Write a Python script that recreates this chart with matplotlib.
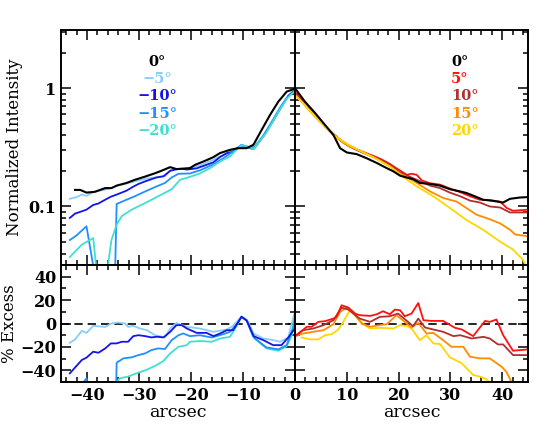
import matplotlib
matplotlib.use("Agg")
import matplotlib.pyplot as plt
from matplotlib.ticker import MultipleLocator, LogLocator, NullFormatter, FixedLocator

plt.rcParams['font.family'] = ['DejaVu Serif']
plt.rcParams['font.size'] = 11.5
plt.rcParams['font.weight'] = 'bold'

# ---- top left: normalized intensity, negative angles ----
x_l0 = [-42.3, -41.3, -40.1, -38.5, -36.5, -35.3, -34.3, -32.4, -30.8, -28.8, -26.9, -25.6, -24.0, -22.8,
        -20.2, -19.2, -17.6, -15.7, -14.4, -12.5, -10.9, -9.3, -8.0, -6.4, -4.8, -3.2, -1.6, -0.3, 0]
y_l0 = [0.138, 0.138, 0.131, 0.133, 0.143, 0.143, 0.150, 0.158, 0.168, 0.179, 0.191, 0.201, 0.215, 0.207,
        0.211, 0.225, 0.240, 0.261, 0.283, 0.301, 0.311, 0.311, 0.332, 0.445, 0.594, 0.77, 0.935, 0.98, 1.0]

x_m5 = [-43.3, -42.0, -41.0, -40.1, -38.8, -36.5, -35.3, -34.0, -32.7, -31.1, -29.8, -28.5, -26.9, -25.0,
        -24.0, -22.8, -20.8, -18.3, -15.7, -13.1, -11.9, -10.3, -9.0, -8.0, -6.1, -4.2, -2.9, -1.3, -0.3, 0]
y_m5 = [0.116, 0.120, 0.126, 0.123, 0.132, 0.139, 0.143, 0.151, 0.155, 0.162, 0.167, 0.172, 0.176, 0.180,
        0.203, 0.208, 0.207, 0.222, 0.248, 0.283, 0.300, 0.330, 0.318, 0.315, 0.40, 0.55, 0.69, 0.86, 0.95, 0.96]

x_m10 = [-43.3, -42.3, -41.0, -40.1, -38.8, -37.8, -36.5, -35.4, -34.3, -32.4, -31.1, -30.1, -28.8, -27.6,
         -26.6, -25.3, -24.0, -22.8, -21.8, -20.8, -18.9, -17.0, -15.7, -14.4, -13.1, -11.9, -10.3, -9.3,
         -8.0, -6.1, -4.2, -2.6, -1.3, -0.3, 0]
y_m10 = [0.080, 0.087, 0.091, 0.094, 0.103, 0.106, 0.114, 0.121, 0.126, 0.136, 0.147, 0.155, 0.163, 0.170,
         0.176, 0.180, 0.200, 0.206, 0.208, 0.205, 0.210, 0.225, 0.236, 0.262, 0.282, 0.290, 0.330, 0.318,
         0.305, 0.39, 0.53, 0.70, 0.86, 0.94, 0.93]

x_m15 = [-43.3, -42.0, -40.1, -38.6, -37.0, -35.5, -34.3, -32.4, -30.8, -28.8, -26.9, -25.0, -23.7, -22.4,
         -20.2, -18.3, -16.0, -13.8, -12.5, -11.0, -10.3, -9.3, -7.7, -5.5, -3.2, -1.6, -0.3, 0]
y_m15 = [0.052, 0.057, 0.068, 0.028, 0.003, 0.0005, 0.105, 0.114, 0.122, 0.134, 0.146, 0.158, 0.176, 0.189,
         0.190, 0.202, 0.224, 0.255, 0.280, 0.310, 0.330, 0.320, 0.315, 0.43, 0.64, 0.82, 0.93, 0.95]

x_m20 = [-43.3, -41.0, -38.8, -37.8, -36.6, -35.3, -34.3, -33.3, -31.4, -28.8, -26.3, -23.7, -22.1, -20.2,
         -18.3, -16.0, -14.4, -12.5, -11.3, -10.3, -9.3, -8.0, -5.5, -3.2, -1.6, -0.6, 0]
y_m20 = [0.0374, 0.0475, 0.0541, 0.020, 0.020, 0.052, 0.070, 0.083, 0.094, 0.107, 0.122, 0.140, 0.168, 0.178,
         0.190, 0.215, 0.240, 0.265, 0.300, 0.330, 0.325, 0.305, 0.42, 0.63, 0.81, 0.90, 0.93]

# ---- top right: normalized intensity, positive angles ----
x_r0 = [0, 1.9, 3.9, 5.5, 7.4, 8.7, 10.0, 11.9, 13.8, 15.8, 17.7, 19.0, 20.3, 21.9, 22.8, 24.1, 26.1, 28.0,
        29.9, 31.9, 33.1, 34.7, 36.3, 38.0, 39.6, 40.2, 41.5, 43.4, 45]
y_r0 = [1.0, 0.77, 0.615, 0.506, 0.403, 0.311, 0.286, 0.277, 0.256, 0.233, 0.211, 0.198, 0.182, 0.174, 0.170,
        0.158, 0.155, 0.150, 0.140, 0.134, 0.130, 0.122, 0.114, 0.112, 0.109, 0.108, 0.116, 0.119, 0.120]

x_p5 = [0, 1.9, 3.9, 5.8, 7.4, 9.0, 10.3, 11.9, 13.5, 15.1, 16.7, 18.3, 19.6, 20.3, 21.6, 22.5, 23.5, 24.5,
        26.1, 28.0, 29.9, 31.9, 33.8, 35.7, 37.6, 39.6, 40.9, 42.1, 45]
y_p5 = [0.93, 0.74, 0.585, 0.48, 0.41, 0.36, 0.33, 0.305, 0.285, 0.268, 0.25, 0.229, 0.21, 0.201, 0.185,
        0.189, 0.185, 0.166, 0.157, 0.153, 0.142, 0.132, 0.122, 0.114, 0.113, 0.110, 0.097, 0.092, 0.094]

x_p10 = [0, 1.9, 3.9, 5.8, 7.4, 9.0, 10.3, 11.9, 13.5, 15.1, 16.7, 18.3, 20.3, 21.6, 23.5, 26.1, 28.0, 29.9,
         31.9, 33.8, 35.7, 37.6, 39.6, 41.5, 45]
y_p10 = [0.90, 0.72, 0.575, 0.475, 0.405, 0.355, 0.325, 0.300, 0.280, 0.262, 0.245, 0.225, 0.194, 0.183,
         0.168, 0.150, 0.143, 0.131, 0.122, 0.112, 0.108, 0.100, 0.098, 0.089, 0.089]

x_p15 = [0, 1.9, 3.9, 5.8, 7.4, 9.0, 10.3, 11.9, 13.5, 15.1, 16.7, 18.3, 20.3, 21.6, 23.5, 26.1, 28.6, 31.2,
         33.1, 35.1, 37.6, 39.6, 41.5, 42.5, 45]
y_p15 = [0.88, 0.72, 0.575, 0.474, 0.403, 0.354, 0.325, 0.305, 0.282, 0.261, 0.240, 0.218, 0.190, 0.177,
         0.158, 0.134, 0.118, 0.110, 0.097, 0.085, 0.078, 0.072, 0.0636, 0.058, 0.056]

x_p20 = [0, 1.9, 3.9, 5.8, 7.4, 9.3, 11.9, 15.1, 18.3, 20.3, 23.5, 26.7, 29.9, 33.1, 36.3, 39.6, 42.1, 44.0, 45]
y_p20 = [0.87, 0.72, 0.576, 0.474, 0.403, 0.354, 0.305, 0.261, 0.218, 0.185, 0.148, 0.122, 0.097, 0.077,
         0.0636, 0.0505, 0.0432, 0.0355, 0.029]

# ---- bottom left: % excess ----
xe_m5 = [-43.3, -42.3, -41.0, -40.1, -38.8, -36.5, -35.3, -34.0, -32.7, -32.1, -31.1, -29.8, -28.5, -26.9,
         -25.0, -24.0, -22.8, -20.8, -18.3, -15.7, -13.1, -11.9, -10.3, -9.0, -8.0, -6.1, -4.2, -2.9, -1.3,
         -0.3, 0]
ye_m5 = [-16.5, -13.6, -6.3, -8.0, -2, -2.9, 0, 0.8, 0, -2.9, -2, -4.3, -5.7, -10, -11.9, -4.3, 0.5, -2.8,
         -4.3, -7.1, -5.1, -2, 5.7, 1.4, -8.5, -12.8, -14.2, -15.6, -12, 5.7, 10]

xe_m10 = [-43.3, -41.0, -40.1, -38.8, -37.8, -36.5, -35.4, -34.3, -33.3, -32.1, -31.1, -30.1, -28.8, -27.6,
          -26.6, -25.3, -24.0, -22.8, -21.8, -20.8, -18.9, -17.0, -15.7, -14.4, -13.1, -11.9, -10.3, -9.3,
          -8.0, -6.1, -4.2, -2.6, -1.3, 0]
ye_m10 = [-42.6, -31.2, -29.2, -24.1, -25, -21.3, -17, -17, -15.6, -15.6, -10.8, -10, -10.8, -11.9, -11.3,
          -11.9, -7.1, -1.4, -1.4, -4.3, -8, -8, -10.8, -8.5, -5.7, -5.7, 5.7, 2.5, -10.8, -14.2, -18.5,
          -18.5, -12, -4]

xe_m15 = [-43.3, -42.0, -40.1, -38.8, -36.5, -34.6, -34.3, -33.0, -31.4, -30.1, -28.8, -27.6, -26.3, -25.0,
          -23.7, -22.4, -21.5, -20.2, -18.3, -16.0, -13.8, -12.5, -11.0, -10.3, -9.3, -7.7, -5.5, -3.2,
          -1.6, -0.3, 0]
ye_m15 = [-62, -57, -47, -80, -95, -95, -33.5, -29.8, -28.9, -27, -25.5, -22.7, -21.3, -21.8, -14.2, -10,
          -8.5, -10.8, -10, -12, -9.1, -7.1, 0.5, 6, 3, -12.8, -20.4, -22.1, -18.5, -2.8, 4]

xe_m20 = [-43.3, -41.0, -38.8, -37.8, -36.3, -35.3, -34.3, -33.7, -32.1, -30.5, -28.6, -26.6, -25.3, -24.0,
          -22.4, -20.8, -20.2, -18.3, -16.0, -14.4, -12.5, -11.3, -10.3, -9.3, -8.0, -5.5, -3.2, -1.6, -0.6, 0]
ye_m20 = [-73, -66, -61, -100, -100, -62, -50, -46.8, -45.4, -42.6, -39.7, -35.5, -32, -25.5, -19.9, -18.5,
          -15.6, -15, -15.6, -12.8, -11.4, -2.8, 5.7, 2.8, -12, -21.3, -23.3, -19.3, -10, 10]

# ---- bottom right: % excess ----
xe_p5 = [0, 2.3, 3.2, 4.5, 5.8, 7.4, 8.0, 9.0, 10.3, 11.6, 12.5, 14.5, 15.8, 17.0, 18.3, 19.3, 20.3, 21.2,
         22.5, 23.8, 24.8, 26.4, 28.6, 30.9, 32.2, 34.4, 36.7, 37.6, 38.9, 40.2, 42.1, 45]
ye_p5 = [-10.8, -2.8, -2.8, 1.4, 2, 4.2, 5.7, 15.6, 13.6, 8.5, 7.1, 6.5, 7.9, 10.5, 7.9, 11.9, 11.3, 6.2,
         8.5, 17.5, 2.8, 2.2, 2.2, -3.7, -5.1, -10.8, 2.2, 1.4, 3.4, -10, -23.3, -22.1]

xe_p10 = [0, 1.6, 3.5, 5.5, 7.4, 9.0, 10.3, 12.5, 14.5, 16.4, 18.3, 19.9, 21.6, 22.8, 23.8, 25.1, 26.7, 28.6,
          30.6, 31.9, 34.1, 36.4, 37.6, 39.2, 40.2, 42.1, 45]
ye_p10 = [-10.8, -5.7, -4.3, -1.4, 2.8, 13.6, 11.9, 4.2, 1.4, 5.7, 6.2, 8.5, 2.2, -2.3, 4.2, -3.4, -5.1,
          -7.1, -10.8, -10, -12.8, -11.4, -12.8, -17.9, -17.9, -27, -27]

xe_p15 = [0, 1.6, 3.5, 5.5, 7.4, 8.7, 10.0, 11.3, 12.9, 14.5, 16.4, 17.7, 19.6, 21.2, 22.5, 23.8, 25.4, 26.7,
          28.6, 30.2, 32.5, 33.8, 35.7, 37.6, 39.9, 40.8, 41.8, 43.5, 45]
ye_p15 = [-10.8, -8.5, -7.1, -5.7, -0.6, 9.9, 13.6, 8.5, 0, -2.8, -1.4, -0.6, 7.1, 1.4, -3.4, 0.5, -8.5, -8,
          -14.2, -19.9, -19.9, -28.4, -29.8, -29.8, -36.9, -41.2, -50, -54, -56]

xe_p20 = [1.3, 2.9, 4.5, 5.8, 7.1, 8.4, 9.3, 10.6, 11.9, 13.2, 14.5, 16.4, 19.0, 20.3, 21.6, 22.5, 24.1,
          25.4, 26.7, 28.0, 29.9, 32.2, 34.4, 35.7, 36.7, 37.6, 40, 45]
ye_p20 = [-12, -13.6, -13.6, -10, -9.1, -5.1, 1.4, 11.3, 5.7, -0.6, -4.3, -3.7, -4.3, -1.4, -2.3, -4.3,
          -14.2, -10, -17, -17.6, -28.9, -34, -44, -45.4, -47, -50, -58, -70]

labels_left = ["0\u00b0", "\u22125\u00b0", "\u221210\u00b0", "\u221215\u00b0", "\u221220\u00b0"]
labels_right = ["0\u00b0", "5\u00b0", "10\u00b0", "15\u00b0", "20\u00b0"]
colors_left = ["black", "#87cefa", "#1414e6", "#2090ff", "#40e0d0"]
colors_right = ["black", "#ff1010", "#b03030", "#ff8c00", "#ffd700"]


def style(ax, logy=False):
    for s in ax.spines.values():
        s.set_linewidth(1.4)
    ax.tick_params(which="both", direction="in", top=True, right=True, width=1.1, labelsize=11.5)
    ax.tick_params(which="major", length=7)
    ax.tick_params(which="minor", length=3.5)
    ax.xaxis.set_major_locator(MultipleLocator(10))
    ax.xaxis.set_minor_locator(MultipleLocator(2))
    if logy:
        ax.set_yscale("log")
        ax.set_ylim(0.032, 3.1)
        ax.yaxis.set_major_locator(FixedLocator([0.1, 1]))
        ax.yaxis.set_minor_locator(LogLocator(subs=range(2, 10)))
        ax.yaxis.set_minor_formatter(NullFormatter())
    else:
        ax.set_ylim(-50, 50)
        ax.yaxis.set_major_locator(MultipleLocator(20))
        ax.yaxis.set_minor_locator(MultipleLocator(10))


fig = plt.figure(figsize=(5.58, 4.46), dpi=100)
ax_tl = fig.add_axes([0.1093, 0.4058, 0.4194, 0.5269])
ax_tr = fig.add_axes([0.5287, 0.4058, 0.4176, 0.5269])
ax_bl = fig.add_axes([0.1093, 0.1435, 0.4194, 0.2623])
ax_br = fig.add_axes([0.5287, 0.1435, 0.4176, 0.2623])

lw = 1.3
for ax in (ax_tl, ax_bl):
    style(ax, logy=(ax is ax_tl))
    ax.set_xlim(-45, 0)
for ax in (ax_tr, ax_br):
    style(ax, logy=(ax is ax_tr))
    ax.set_xlim(0, 45)

# top left
ax_tl.plot(x_m5, y_m5, color=colors_left[1], lw=lw)
ax_tl.plot(x_m10, y_m10, color=colors_left[2], lw=lw)
ax_tl.plot(x_m15, y_m15, color=colors_left[3], lw=lw)
ax_tl.plot(x_m20, y_m20, color=colors_left[4], lw=lw)
ax_tl.plot(x_l0, y_l0, color="black", lw=1.5)

# top right
ax_tr.plot(x_p5, y_p5, color=colors_right[1], lw=lw)
ax_tr.plot(x_p10, y_p10, color=colors_right[2], lw=lw)
ax_tr.plot(x_p15, y_p15, color=colors_right[3], lw=lw)
ax_tr.plot(x_p20, y_p20, color=colors_right[4], lw=lw)
ax_tr.plot(x_r0, y_r0, color="black", lw=1.5)

# bottom panels
ax_bl.axhline(0, color="black", lw=1.2, ls=(0, (5, 3)))
ax_bl.plot(xe_m5, ye_m5, color=colors_left[1], lw=lw)
ax_bl.plot(xe_m20, ye_m20, color=colors_left[4], lw=lw)
ax_bl.plot(xe_m15, ye_m15, color=colors_left[3], lw=lw)
ax_bl.plot(xe_m10, ye_m10, color=colors_left[2], lw=lw)

ax_br.axhline(0, color="black", lw=1.2, ls=(0, (5, 3)))
ax_br.plot(xe_p20, ye_p20, color=colors_right[4], lw=lw)
ax_br.plot(xe_p15, ye_p15, color=colors_right[3], lw=lw)
ax_br.plot(xe_p10, ye_p10, color=colors_right[2], lw=lw)
ax_br.plot(xe_p5, ye_p5, color=colors_right[1], lw=lw)

# tick labels
ax_tl.set_xticklabels([])
ax_tr.set_xticklabels([])
ax_tr.set_yticklabels([])
ax_br.set_yticklabels([])
ax_tl.set_yticklabels(["0.1", "1"])
ax_bl.set_xticks([-40, -30, -20, -10, 0])
ax_br.set_xticks([0, 10, 20, 30, 40])
ax_br.set_xticklabels(["", "10", "20", "30", "40"])

ax_tl.set_ylabel("Normalized Intensity", labelpad=4, fontsize=12)
ax_bl.set_ylabel("% Excess", labelpad=2, fontsize=12)
ax_bl.set_xlabel("arcsec", labelpad=0, fontsize=12.5)
ax_br.set_xlabel("arcsec", labelpad=0, fontsize=12.5)
fig.align_ylabels([ax_tl, ax_bl])

# angle labels
ys = [0.864, 0.791, 0.719, 0.642, 0.57]
for lab, col, yy in zip(labels_left, colors_left, ys):
    ax_tl.text(0.41, yy, lab, color=col, transform=ax_tl.transAxes, ha="center", va="center", fontsize=10.5)
for lab, col, yy in zip(labels_right, colors_right, ys):
    ax_tr.text(0.67, yy, lab, color=col, transform=ax_tr.transAxes, ha="left", va="center", fontsize=10.5)

fig.savefig("out.png", dpi=100)
